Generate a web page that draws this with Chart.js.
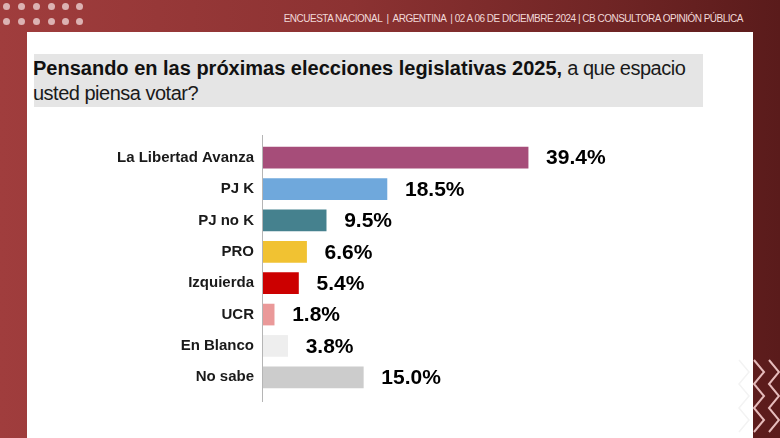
<!DOCTYPE html>
<html>
<head>
<meta charset="utf-8">
<script src="https://cdn.jsdelivr.net/npm/chart.js@4"></script>
<style>
  html, body { margin: 0; padding: 0; }
  body {
    width: 780px; height: 438px; overflow: hidden; position: relative;
    background: linear-gradient(90deg, #a03d3d 0%, #8c3232 45%, #6e2424 80%, #5a1b1b 100%);
    font-family: "Liberation Sans", Arial, sans-serif;
  }
  .dots { position: absolute; left: 3px; top: 3px; }
  .dots span {
    position: absolute; width: 7px; height: 7px; border-radius: 50%;
    background: #dcb2b2;
  }
  .header {
    position: absolute; right: 37px; top: 13px;
    font-size: 10px; letter-spacing: -0.5px; color: #f1d9d9; white-space: nowrap;
  }
  .panel {
    position: absolute; left: 27px; top: 32px; width: 726px; height: 420px;
    background: #ffffff;
  }
  .titlebox {
    position: absolute; left: 34px; top: 54px; width: 669px; height: 53px;
    background: #e5e5e5;
  }
  .title {
    position: absolute; left: 33px; top: 56px; width: 700px;
    font-size: 20px; line-height: 25px; color: #111;
  }
  .title b { font-weight: bold; }
  .title .r { letter-spacing: -0.5px; color: #1a1a1a; }
  #wrap { position: absolute; left: 110px; top: 125px; width: 591px; height: 285px; }
  svg.zig { position: absolute; left: 733px; top: 355px; }
</style>
</head>
<body>
<div class="dots" id="dots"></div>
<div class="header">ENCUESTA NACIONAL &nbsp;|&nbsp; ARGENTINA &nbsp;| 02 A 06 DE DICIEMBRE 2024 | CB CONSULTORA OPINIÓN PÚBLICA</div>
<div class="panel"></div>
<div class="titlebox"></div>
<div class="title"><b>Pensando en las próximas elecciones legislativas 2025,</b><span class="r"> a que espacio<br>usted piensa votar?</span></div>
<svg class="zig" width="47" height="83">
  <g fill="none" stroke="#f3f3f3" stroke-width="1.5">
    <polyline points="6,5 16,17 6,29 16,41 6,53 16,65 6,77"/>
  </g>
  <g fill="none" stroke="#e6bcbc" stroke-width="2">
    <polyline points="21,5 31,17 21,29 31,41 21,53 31,65 21,77"/>
    <polyline points="36,5 46,17 36,29 46,41 36,53 46,65 36,77"/>
  </g>
</svg>
<div id="wrap"><canvas id="chart"></canvas></div>
<script>
const categories = ['La Libertad Avanza', 'PJ K', 'PJ no K', 'PRO', 'Izquierda', 'UCR', 'En Blanco', 'No sabe'];
const values = [39.4, 18.5, 9.5, 6.6, 5.4, 1.8, 3.8, 15.0];
const barColors = ['#a64d79', '#6fa8dc', '#45818e', '#f1c232', '#cc0000', '#ea9999', '#eeeeee', '#cccccc'];

// header dots
const dotsEl = document.getElementById('dots');
[0, 15].forEach(y => {
    [0, 15, 30, 45, 59, 73].forEach(x => {
        const d = document.createElement('span');
        d.style.left = x + 'px';
        d.style.top = y + 'px';
        dotsEl.appendChild(d);
    });
});

const axisLine = {
    id: 'axisLine',
    afterDraw(chart) {
        const ctx = chart.ctx;
        const area = chart.chartArea;
        ctx.save();
        ctx.strokeStyle = '#b5b5b5';
        ctx.lineWidth = 1;
        ctx.beginPath();
        ctx.moveTo(area.left + 0.5, area.top - 7);
        ctx.lineTo(area.left + 0.5, area.bottom + 9);
        ctx.stroke();
        ctx.restore();
    }
};

const valueLabels = {
    id: 'valueLabels',
    afterDatasetsDraw(chart) {
        const ctx = chart.ctx;
        const meta = chart.getDatasetMeta(0);
        ctx.save();
        ctx.font = 'bold 21px "Liberation Sans", Arial, sans-serif';
        ctx.fillStyle = '#000';
        ctx.textAlign = 'left';
        ctx.textBaseline = 'middle';
        meta.data.forEach((bar, i) => {
            ctx.fillText(values[i].toFixed(1) + '%', bar.x + 18, bar.y + 1);
        });
        ctx.restore();
    }
};

new Chart(document.getElementById('chart'), {
    type: 'bar',
    data: {
        labels: categories,
        datasets: [{
            data: values,
            backgroundColor: barColors,
            borderWidth: 0,
            barThickness: 21
        }]
    },
    options: {
        indexAxis: 'y',
        responsive: true,
        maintainAspectRatio: false,
        animation: false,
        layout: { padding: { top: 14, bottom: 16, left: 0, right: 0 } },
        plugins: {
            legend: { display: false },
            tooltip: { enabled: false }
        },
        scales: {
            x: {
                display: false,
                min: 0,
                max: 65
            },
            y: {
                afterFit(scale) { scale.width = 152; },
                grid: { display: false, drawTicks: false },
                border: { display: false },
                ticks: {
                    padding: 8,
                    color: '#1a1a1a',
                    font: { family: '"Liberation Sans", Arial, sans-serif', size: 15, weight: 'bold' }
                }
            }
        }
    },
    plugins: [axisLine, valueLabels]
});
</script>
</body>
</html>
